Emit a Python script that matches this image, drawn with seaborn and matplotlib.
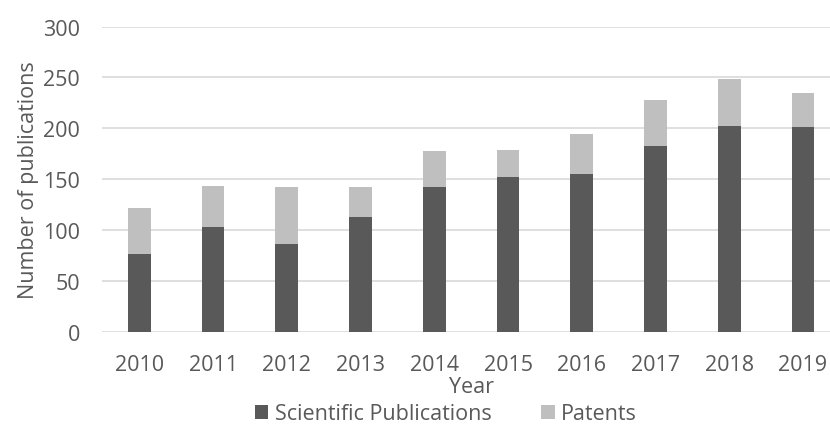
import matplotlib
matplotlib.use("Agg")
import matplotlib.pyplot as plt
import seaborn as sns
import pandas as pd
from matplotlib.patches import Patch

years = ["2010", "2011", "2012", "2013", "2014", "2015", "2016", "2017", "2018", "2019"]
scientific = [76, 103, 86, 113, 142, 152, 155, 183, 202, 201]
patents = [46, 40, 56, 29, 36, 27, 39, 45, 46, 34]
yticks = [0, 50, 100, 150, 200, 250, 300]

df = pd.DataFrame({"Year": years, "Scientific Publications": scientific, "Patents": patents})
df["Total"] = df["Scientific Publications"] + df["Patents"]

sns.set_theme(style="white")
plt.rcParams["font.family"] = ["Open Sans", "DejaVu Sans"]

DARK = "#595959"
LIGHT = "#BFBFBF"
TEXT = "#595959"
GRID = "#D9D9D9"
FS = 15.5

fig = plt.figure(figsize=(8.30, 4.27), dpi=100)
W, H = 830, 427
left, right = 102.4, 839.9
top, bottom = 27.5, 332.7
ax = fig.add_axes([left / W, (H - bottom) / H, (right - left) / W, (bottom - top) / H])

sns.barplot(data=df, x="Year", y="Total", color=LIGHT, width=0.31, linewidth=0,
            saturation=1, ax=ax, zorder=3)
sns.barplot(data=df, x="Year", y="Scientific Publications", color=DARK, width=0.31,
            linewidth=0, saturation=1, ax=ax, zorder=4)

ax.set_ylim(0, 300)
ax.set_xlim(-0.5, len(years) - 0.5)
ax.set_yticks(yticks)
ax.yaxis.grid(True, color=GRID, linewidth=1.2, zorder=0)
ax.xaxis.grid(False)
for s in ax.spines.values():
    s.set_visible(False)
ax.tick_params(axis="both", length=0, labelsize=FS, colors=TEXT)
ax.tick_params(axis="y", pad=16)
ax.tick_params(axis="x", pad=16)
ax.set_xlabel("Year", fontsize=FS, color=TEXT, labelpad=1)
ax.set_ylabel("Number of publications", fontsize=FS, color=TEXT, labelpad=3)

handles = [Patch(facecolor=DARK, edgecolor="none"), Patch(facecolor=LIGHT, edgecolor="none")]
fig.legend(handles, ["Scientific Publications", "Patents"], loc="center",
           bbox_to_anchor=(446 / W, 1 - 415 / H), ncol=2, frameon=False,
           fontsize=FS, labelcolor=TEXT, handlelength=0.62, handleheight=0.62,
           handletextpad=0.3, columnspacing=2.3, borderaxespad=0)

fig.savefig("out.png", dpi=100)
